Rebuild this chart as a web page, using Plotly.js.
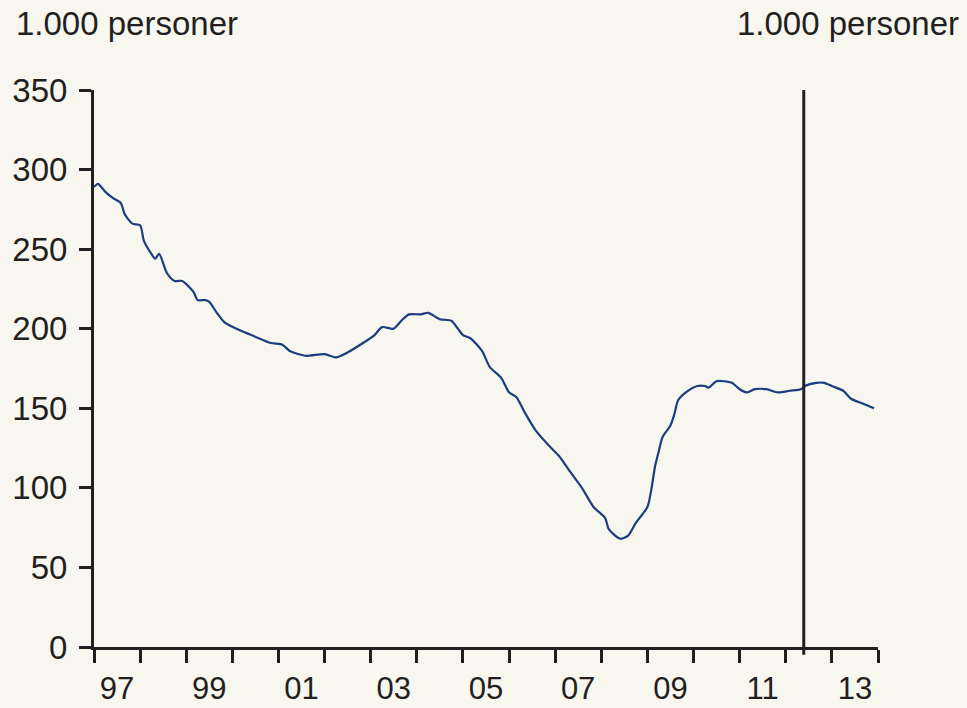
<!DOCTYPE html>
<html>
<head>
<meta charset="utf-8">
<script src="https://cdn.plot.ly/plotly-3.0.1.min.js"></script>
<style>
  html, body { margin: 0; padding: 0; background: #f7f6ef; }
  #chart { width: 967px; height: 708px; }
</style>
</head>
<body>
<div id="chart"></div>
<script>
// Ledighed, 1.000 personer
const months = ['1997-01','1997-02','1997-04','1997-06','1997-08','1997-09','1997-11','1998-01','1998-02','1998-04','1998-05','1998-06','1998-08','1998-10','1998-12',
  '1999-03','1999-04','1999-06','1999-07','1999-09','1999-11','2000-03','2000-07','2000-11','2001-02','2001-04','2001-08','2002-01','2002-04','2002-07','2002-11',
  '2003-02','2003-04','2003-07','2003-09','2003-11','2004-02','2004-04','2004-07','2004-10','2004-12','2005-01','2005-03','2005-06','2005-08','2005-11',
  '2006-01','2006-03','2006-05','2006-08','2006-12','2007-02','2007-05','2007-08','2007-11','2008-02','2008-03','2008-06','2008-08','2008-10',
  '2009-01','2009-02','2009-03','2009-04','2009-05','2009-07','2009-08','2009-09','2009-11','2010-02','2010-04','2010-05','2010-07','2010-09','2010-11',
  '2011-01','2011-03','2011-05','2011-08','2011-11','2012-02','2012-05','2012-06','2012-09','2012-11','2013-01','2013-04','2013-06','2013-09','2013-12'];
const unemployed = [289,291,286,282,279,272,266,265,255,247,244,247,235,230,230,
  223,218,218,217,210,204,199,195,191,190,186,183,184,182,185,191,
  196,201,200,205,209,209,210,206,205,199,196,194,186,176,169,
  160,157,148,136,125,120,110,100,88,81,74,68,70,78,
  88,99,113,123,132,139,146,155,160,164,164,163,167,167,166,
  162,160,162,162,160,161,162,164,166,166,164,161,156,153,150];

const yearStarts = ['1997-01-01','1998-01-01','1999-01-01','2000-01-01','2001-01-01','2002-01-01','2003-01-01','2004-01-01','2005-01-01',
  '2006-01-01','2007-01-01','2008-01-01','2009-01-01','2010-01-01','2011-01-01','2012-01-01','2013-01-01','2014-01-01'];
const labelDates = ['1997-07-02','1999-07-02','2001-07-02','2003-07-02','2005-07-02','2007-07-02','2009-07-02','2011-07-02','2013-07-02'];
const labelText = ['97','99','01','03','05','07','09','11','13'];
const forecastStart = '2012-05-23';
const unitLabel = '1.000 personer';

const ink = '#231f20';
const bg = '#f7f6ef';
const fontFam = 'Liberation Sans, Arial, sans-serif';

const trace = {
  x: months, y: unemployed, type: 'scatter', mode: 'lines',
  line: { color: '#1c3d80', width: 2.2, shape: 'spline', smoothing: 0.7 },
  hoverinfo: 'skip', showlegend: false
};

const yStyle = {
  range: [0, 350], tickmode: 'linear', tick0: 0, dtick: 50,
  ticks: 'outside', ticklen: 12, tickwidth: 3, tickcolor: ink,
  showline: true, linewidth: 3, linecolor: ink,
  showgrid: false, zeroline: false,
  ticklabelstandoff: 5,
  tickfont: { size: 33, color: ink, family: fontFam }
};

const layout = {
  width: 967, height: 708,
  margin: { l: 94, r: 89, t: 90, b: 61 },
  paper_bgcolor: bg, plot_bgcolor: bg,
  font: { family: fontFam, color: ink },
  showlegend: false,
  xaxis: {
    type: 'date', range: ['1997-01-01', '2014-01-01'],
    tickmode: 'array', tickvals: labelDates, ticktext: labelText,
    ticks: '', showline: true, linewidth: 3, linecolor: ink,
    showgrid: false, zeroline: false,
    tickfont: { size: 31, color: ink, family: fontFam },
    ticklabelstandoff: 12,
    minor: { tickmode: 'array', tickvals: yearStarts, ticks: 'outside', ticklen: 13, tickwidth: 3, tickcolor: ink, showgrid: false }
  },
  yaxis: Object.assign({}, yStyle, { side: 'left' }),
  yaxis2: Object.assign({}, yStyle, { side: 'right', overlaying: 'y', matches: 'y', anchor: 'x' }),
  shapes: [
    { type: 'line', xref: 'x', yref: 'paper', x0: forecastStart, x1: forecastStart, y0: -0.014, y1: 1,
      line: { color: ink, width: 3 } }
  ],
  annotations: [
    { text: unitLabel, xref: 'paper', yref: 'paper', x: -0.102, y: 1.12, xanchor: 'left', yanchor: 'middle',
      showarrow: false, font: { size: 33, color: ink, family: fontFam } },
    { text: unitLabel, xref: 'paper', yref: 'paper', x: 1.106, y: 1.12, xanchor: 'right', yanchor: 'middle',
      showarrow: false, font: { size: 33, color: ink, family: fontFam } }
  ]
};

Plotly.newPlot('chart', [trace], layout, { displayModeBar: false, staticPlot: true });
</script>
</body>
</html>
